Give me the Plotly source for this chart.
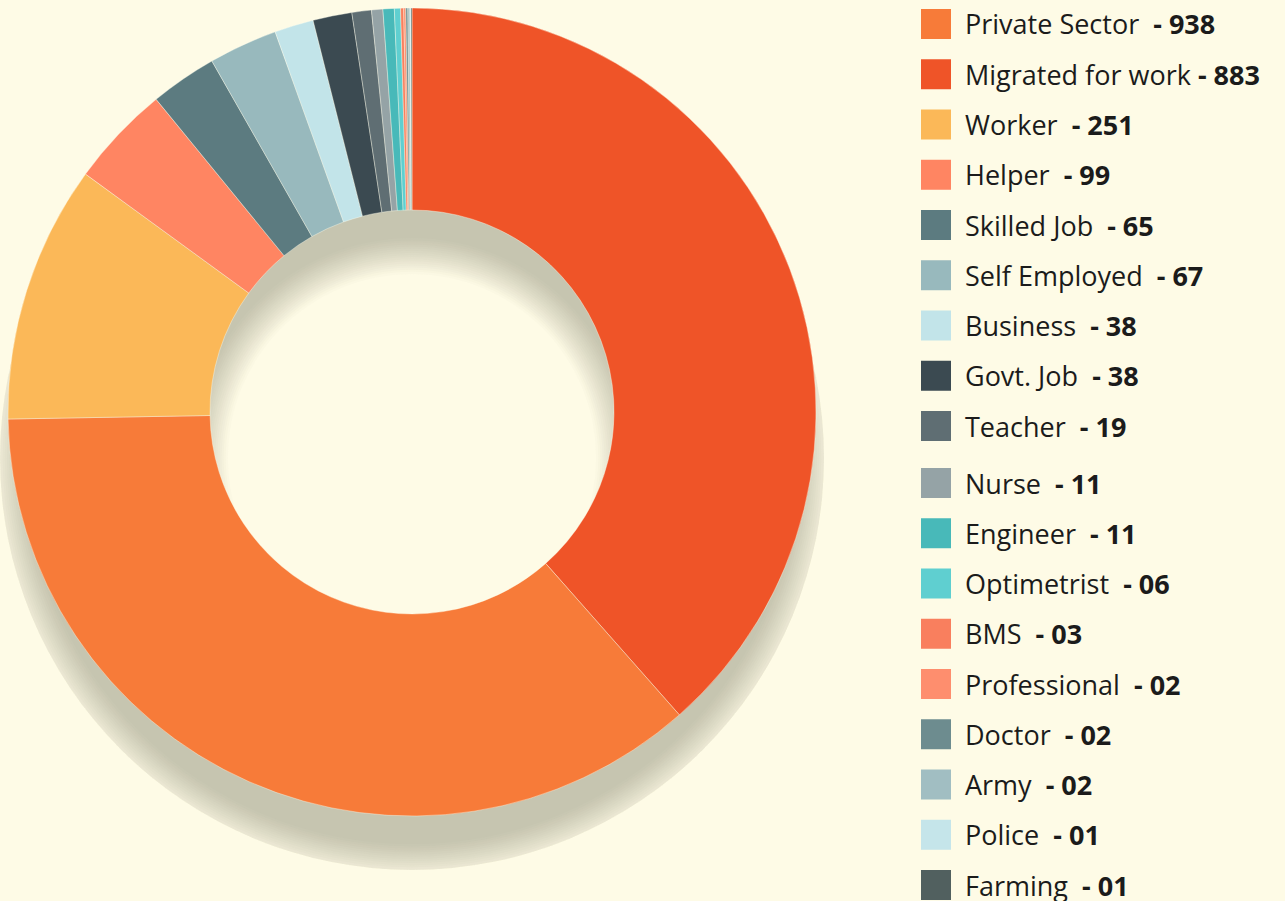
import plotly.graph_objects as go

# ---------------- data ----------------
categories = ["Private Sector", "Migrated for work", "Worker", "Helper", "Skilled Job",
              "Self Employed", "Business", "Govt. Job", "Teacher", "Nurse", "Engineer",
              "Optimetrist", "BMS", "Professional", "Doctor", "Army", "Police", "Farming"]
counts = [938, 883, 251, 99, 65, 67, 38, 38, 19, 11, 11, 6, 3, 2, 2, 2, 1, 1]
legend_colors = ["#F77B39", "#EF5428", "#FBB858", "#FF8562", "#5C7B80", "#98B9BD",
                 "#C2E4E9", "#3B4A51", "#5F6E73", "#95A3A6", "#48B9B9", "#5FCFD0",
                 "#F97F5E", "#FE8E6E", "#6D8C8F", "#A1BEC2", "#C5E5EA", "#51605F"]
# the ring shows the first two colours swapped with respect to the legend
slice_colors = ["#EF5428", "#F77B39"] + legend_colors[2:]

# ---------------- layout constants ----------------
W, H = 1285, 901
BG = "#FEFBE6"
CX, CY = 412, 412          # ring centre (px, from top-left)
R_OUT, R_IN = 404, 202     # ring radii (px)
SH_DY, SH_BLUR, SH_LAYERS = 46, 19, 18
SH_RGB = (198, 197, 176)

fig = go.Figure()

# ---------------- blurred drop shadow (stack of grey rings) ----------------
scx, scy = CX, CY + SH_DY
rmax = min(scx, W - scx, scy, H - scy)
for n in range(1, SH_LAYERS + 1):
    f = 1 - 2 * (n - 0.5) / SH_LAYERS
    ro = min(R_OUT + SH_BLUR * f, rmax)
    ri = R_IN - SH_BLUR * f
    alpha = 1.0 / (SH_LAYERS - n + 1)
    fig.add_trace(go.Pie(
        values=[1], labels=["shadow"], sort=False, hole=ri / ro,
        marker=dict(colors=[f"rgba({SH_RGB[0]},{SH_RGB[1]},{SH_RGB[2]},{alpha:.4f})"],
                    line=dict(width=0)),
        textinfo="none", hoverinfo="skip", showlegend=False,
        domain=dict(x=[(scx - ro) / W, (scx + ro) / W],
                    y=[(H - (scy + ro)) / H, (H - (scy - ro)) / H]),
    ))

# ---------------- the donut ----------------
fig.add_trace(go.Pie(
    labels=categories, values=counts, sort=False, direction="clockwise", rotation=0,
    hole=R_IN / R_OUT,
    marker=dict(colors=slice_colors, line=dict(color="rgba(255,255,240,0.55)", width=0.7)),
    textinfo="none", hovertemplate="%{label}: %{value}<extra></extra>", showlegend=False,
    domain=dict(x=[(CX - R_OUT) / W, (CX + R_OUT) / W],
                y=[(H - (CY + R_OUT)) / H, (H - (CY - R_OUT)) / H]),
))

# ---------------- manual legend ----------------
shapes, annotations = [], []
SQ = 30
for i, (name, v, col) in enumerate(zip(categories, counts, legend_colors)):
    yc = 24 + 50.25 * i if i < 9 else 483 + 50.25 * (i - 9)
    shapes.append(dict(type="rect", xref="paper", yref="paper",
                       x0=921 / W, x1=(921 + SQ) / W,
                       y0=(H - (yc + SQ / 2)) / H, y1=(H - (yc - SQ / 2)) / H,
                       fillcolor=col, line=dict(width=0), layer="above"))
    sep = "\u00a0" if name == "Migrated for work" else "\u00a0\u00a0"
    annotations.append(dict(xref="paper", yref="paper", x=963 / W, y=(H - yc) / H,
                            xanchor="left", yanchor="middle", showarrow=False,
                            text=f"{name}{sep}<b>- {v:02d}</b>",
                            font=dict(family="Open Sans", size=27, weight=500,
                                      color="#1B1B1B")))

fig.update_layout(
    width=W, height=H, margin=dict(l=0, r=0, t=0, b=0),
    paper_bgcolor=BG, plot_bgcolor=BG,
    shapes=shapes, annotations=annotations, showlegend=False,
)

fig.write_html("out.html", config={"displayModeBar": False},
               post_script="document.body.style.margin='0';"
                           "document.body.style.background='" + BG + "';")
